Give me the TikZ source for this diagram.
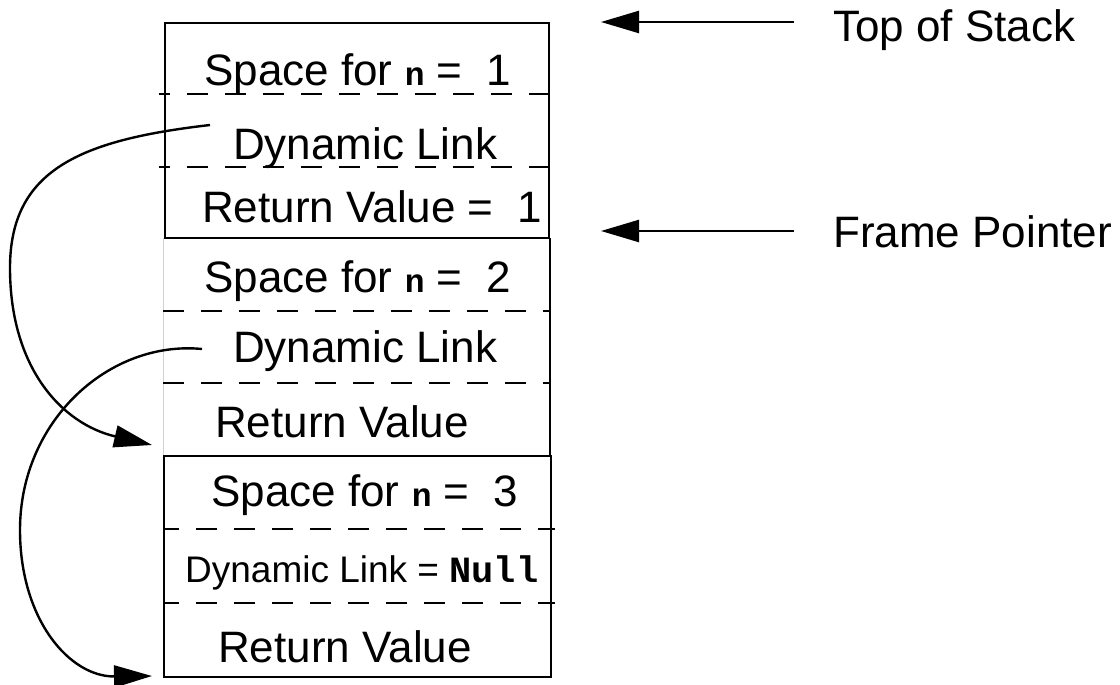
\documentclass[tikz,border=0pt]{standalone}
\usepackage{fontspec}
\setmainfont{Liberation Sans}
\newfontfamily\codefont{Liberation Mono}
\usetikzlibrary{arrows.meta}
\newcommand\codetxt[1]{{\codefont\bfseries #1}}
\newcommand\smallcode[1]{{\codefont\bfseries\fontsize{33}{38}\selectfont #1}}
\begin{document}
\begin{tikzpicture}[x=1pt,y=-1pt,
  lbl/.style={font=\fontsize{44}{50}\selectfont, inner sep=0pt, anchor=base west},
  smalllbl/.style={font=\fontsize{37}{42}\selectfont, inner sep=0pt, anchor=base west},
  frame/.style={draw=black, line width=2.8pt},
  sep/.style={draw=black, line width=2.4pt, dash pattern=on 21pt off 17pt},
  ptr/.style={draw=black, line width=2.4pt, -{Triangle[length=38pt,width=22pt]}},
  link/.style={draw=black, line width=2.4pt, -{Triangle[length=38pt,width=22pt]}}]
\useasboundingbox (0,0) rectangle (1120,685);
% frames
\draw[frame] (165,23) rectangle (549,238);
\draw[draw=black!18, line width=1pt] (163,238) -- (163,456);
\draw[frame] (550,238) -- (550,456);
\draw[frame] (164,456) rectangle (551,677);
% dashed separators
\draw[sep, dash phase=10pt] (159,94) -- (549,94);
\draw[sep, dash phase=10pt] (159,167) -- (549,167);
\draw[sep] (163,311) -- (550,311);
\draw[sep] (163,383) -- (550,383);
\draw[sep, dash phase=6pt] (164,529) -- (555,529);
\draw[sep, dash phase=6pt] (164,603) -- (555,603);
% labels
\node[lbl] (s1) at (204,86) {Space for \smallcode{n} = \hspace{12pt}1};
\node[lbl] (d1) at (233,159) {Dynamic Link};
\node[lbl] (r1) at (202,222) {Return Value = \hspace{12pt}1};
\node[lbl] (s2) at (204,292) {Space for \smallcode{n} = \hspace{12pt}2};
\node[lbl] (d2) at (233,362) {Dynamic Link};
\node[lbl] (r2) at (215,437) {Return Value};
\node[lbl] (s3) at (211,506) {Space for \smallcode{n} = \hspace{12pt}3};
\node[smalllbl] (d3) at (185,582) {Dynamic Link = \codetxt{Null}};
\node[lbl] (r3) at (218,662) {Return Value};
\node[lbl] (tos) at (833,42) {Top of Stack};
\node[lbl] (fp) at (833,247) {Frame Pointer};
% pointer arrows
\coordinate (tosTail) at (794,22);
\coordinate (tosTip) at (601,22);
\coordinate (fpTail) at (794,231);
\coordinate (fpTip) at (601,231);
\draw[ptr] (tosTail) -- (tosTip);
\draw[ptr] (fpTail) -- (fpTip);
% dynamic links
\coordinate (dl1) at (210,125);
\coordinate (m1) at (10,268);
\coordinate (rv2) at (152,445);
\draw[link] (dl1) .. controls (80,140) and (10,170) .. (m1)
  .. controls (10,368) and (62,424) .. (rv2);
\coordinate (dl2) at (202,349);
\coordinate (m2) at (20,530);
\coordinate (rv3) at (152,676);
\draw[link] (dl2) .. controls (110,340) and (20,420) .. (m2)
  .. controls (20,620) and (70,677) .. (rv3);
\end{tikzpicture}
\end{document}
